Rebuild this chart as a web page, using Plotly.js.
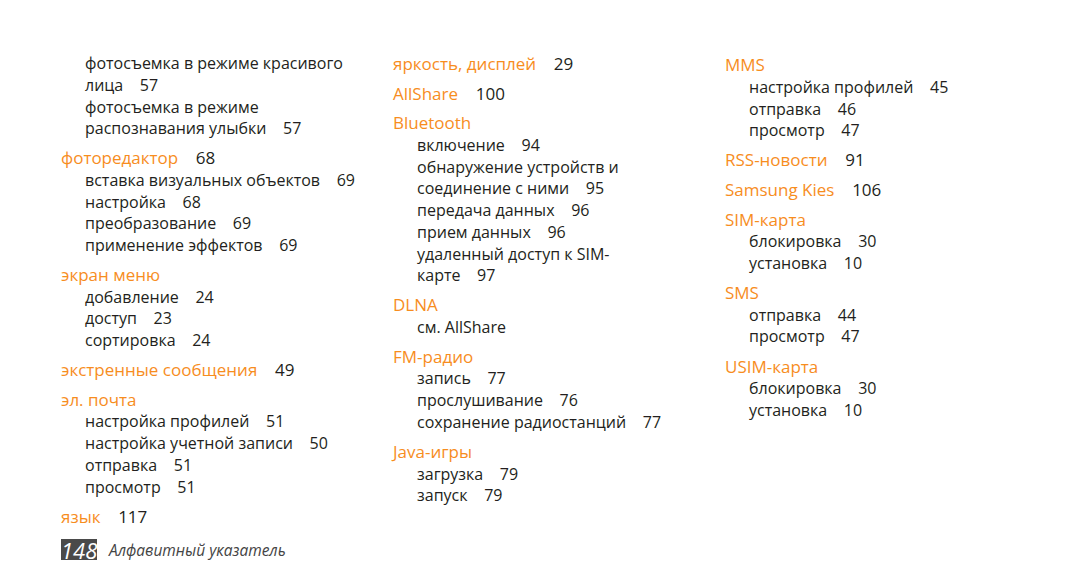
<!DOCTYPE html>
<html>
<head>
<meta charset="utf-8">
<script src="https://cdn.plot.ly/plotly-3.0.1.min.js"></script>
<style>html,body{margin:0;padding:0;background:#fff;}#chart{width:1080px;height:586px;}</style>
</head>
<body>
<div id="chart"></div>
<script>
// Column 1 lines: level 0 = orange heading, level 1 = sub-entry; page "" = no page on that line
const col1Text = ["фотосъемка в режиме красивого", "лица", "фотосъемка в режиме", "распознавания улыбки",
  "фоторедактор", "вставка визуальных объектов", "настройка", "преобразование", "применение эффектов",
  "экран меню", "добавление", "доступ", "сортировка",
  "экстренные сообщения", "эл. почта", "настройка профилей", "настройка учетной записи", "отправка", "просмотр",
  "язык"];
const col1Page = ["", "57", "", "57", "68", "69", "68", "69", "69", "", "24", "23", "24", "49", "", "51", "50", "51", "51", "117"];
const col1Level = [1, 1, 1, 1, 0, 1, 1, 1, 1, 0, 1, 1, 1, 0, 0, 1, 1, 1, 1, 0];

const col2Text = ["яркость, дисплей", "AllShare", "Bluetooth", "включение", "обнаружение устройств и", "соединение с ними",
  "передача данных", "прием данных", "удаленный доступ к SIM-", "карте",
  "DLNA", "см. AllShare", "FM-радио", "запись", "прослушивание", "сохранение радиостанций",
  "Java-игры", "загрузка", "запуск"];
const col2Page = ["29", "100", "", "94", "", "95", "96", "96", "", "97", "", "", "", "77", "76", "77", "", "79", "79"];
const col2Level = [0, 0, 0, 1, 1, 1, 1, 1, 1, 1, 0, 1, 0, 1, 1, 1, 0, 1, 1];

const col3Text = ["MMS", "настройка профилей", "отправка", "просмотр", "RSS-новости", "Samsung Kies",
  "SIM-карта", "блокировка", "установка", "SMS", "отправка", "просмотр", "USIM-карта", "блокировка", "установка"];
const col3Page = ["", "45", "46", "47", "91", "106", "", "30", "10", "", "44", "47", "", "30", "10"];
const col3Level = [0, 1, 1, 1, 0, 0, 0, 1, 1, 0, 1, 1, 0, 1, 1];

const footerPage = "148";
const footerTitle = "Алфавитный указатель";

const ORANGE = "rgb(247,141,30)";
const INK = "#231f20";
const GAP = "&nbsp;&nbsp;&nbsp;&nbsp;";

function buildColumn(texts, pages, levels, xHead, yTop) {
  const hx = [], hy = [], ht = [], sx = [], sy = [], st = [];
  let y = yTop;
  for (let i = 0; i < texts.length; i++) {
    if (i > 0) y += levels[i] === 0 ? 29.8 : 21.75;
    const pg = pages[i] ? GAP + '<span style="color:' + INK + '">' + pages[i] + '</span>' : "";
    if (levels[i] === 0) { hx.push(xHead); hy.push(y); ht.push(texts[i] + pg); }
    else { sx.push(xHead + 24); sy.push(y); st.push(texts[i] + pg); }
  }
  return {hx, hy, ht, sx, sy, st};
}

const cols = [buildColumn(col1Text, col1Page, col1Level, 61, 65),
              buildColumn(col2Text, col2Page, col2Level, 393, 65.5),
              buildColumn(col3Text, col3Page, col3Level, 725, 67)];

const FONT = "Open Sans, sans-serif";
const traces = [];
cols.forEach(c => {
  traces.push({x: c.hx, y: c.hy, text: c.ht, mode: "text", type: "scatter", textposition: "middle right",
    textfont: {family: FONT, size: 17, color: ORANGE}, hoverinfo: "skip", showlegend: false, cliponaxis: false});
  traces.push({x: c.sx, y: c.sy, text: c.st, mode: "text", type: "scatter", textposition: "middle right",
    textfont: {family: FONT, size: 16, color: INK}, hoverinfo: "skip", showlegend: false, cliponaxis: false});
});

const layout = {
  width: 1080, height: 586,
  margin: {l: 0, r: 0, t: 0, b: 0},
  paper_bgcolor: "#fff", plot_bgcolor: "#fff",
  xaxis: {range: [0, 1080], visible: false, fixedrange: true},
  yaxis: {range: [586, 0], visible: false, fixedrange: true},
  shapes: [{type: "rect", xref: "x", yref: "y", x0: 61, x1: 97, y0: 539, y1: 560, fillcolor: "#4a4a4a", line: {width: 0}}],
  annotations: [
    {x: 79, y: 549.5, xref: "x", yref: "y", text: "<i>" + footerPage + "</i>", showarrow: false,
     font: {family: FONT, size: 22, color: "#fff"}},
    {x: 106, y: 550, xref: "x", yref: "y", text: "<i>" + footerTitle + "</i>", showarrow: false, xanchor: "left",
     font: {family: FONT, size: 15.5, color: "#444"}}
  ]
};

Plotly.newPlot("chart", traces, layout, {staticPlot: true, displayModeBar: false});
</script>
</body>
</html>
